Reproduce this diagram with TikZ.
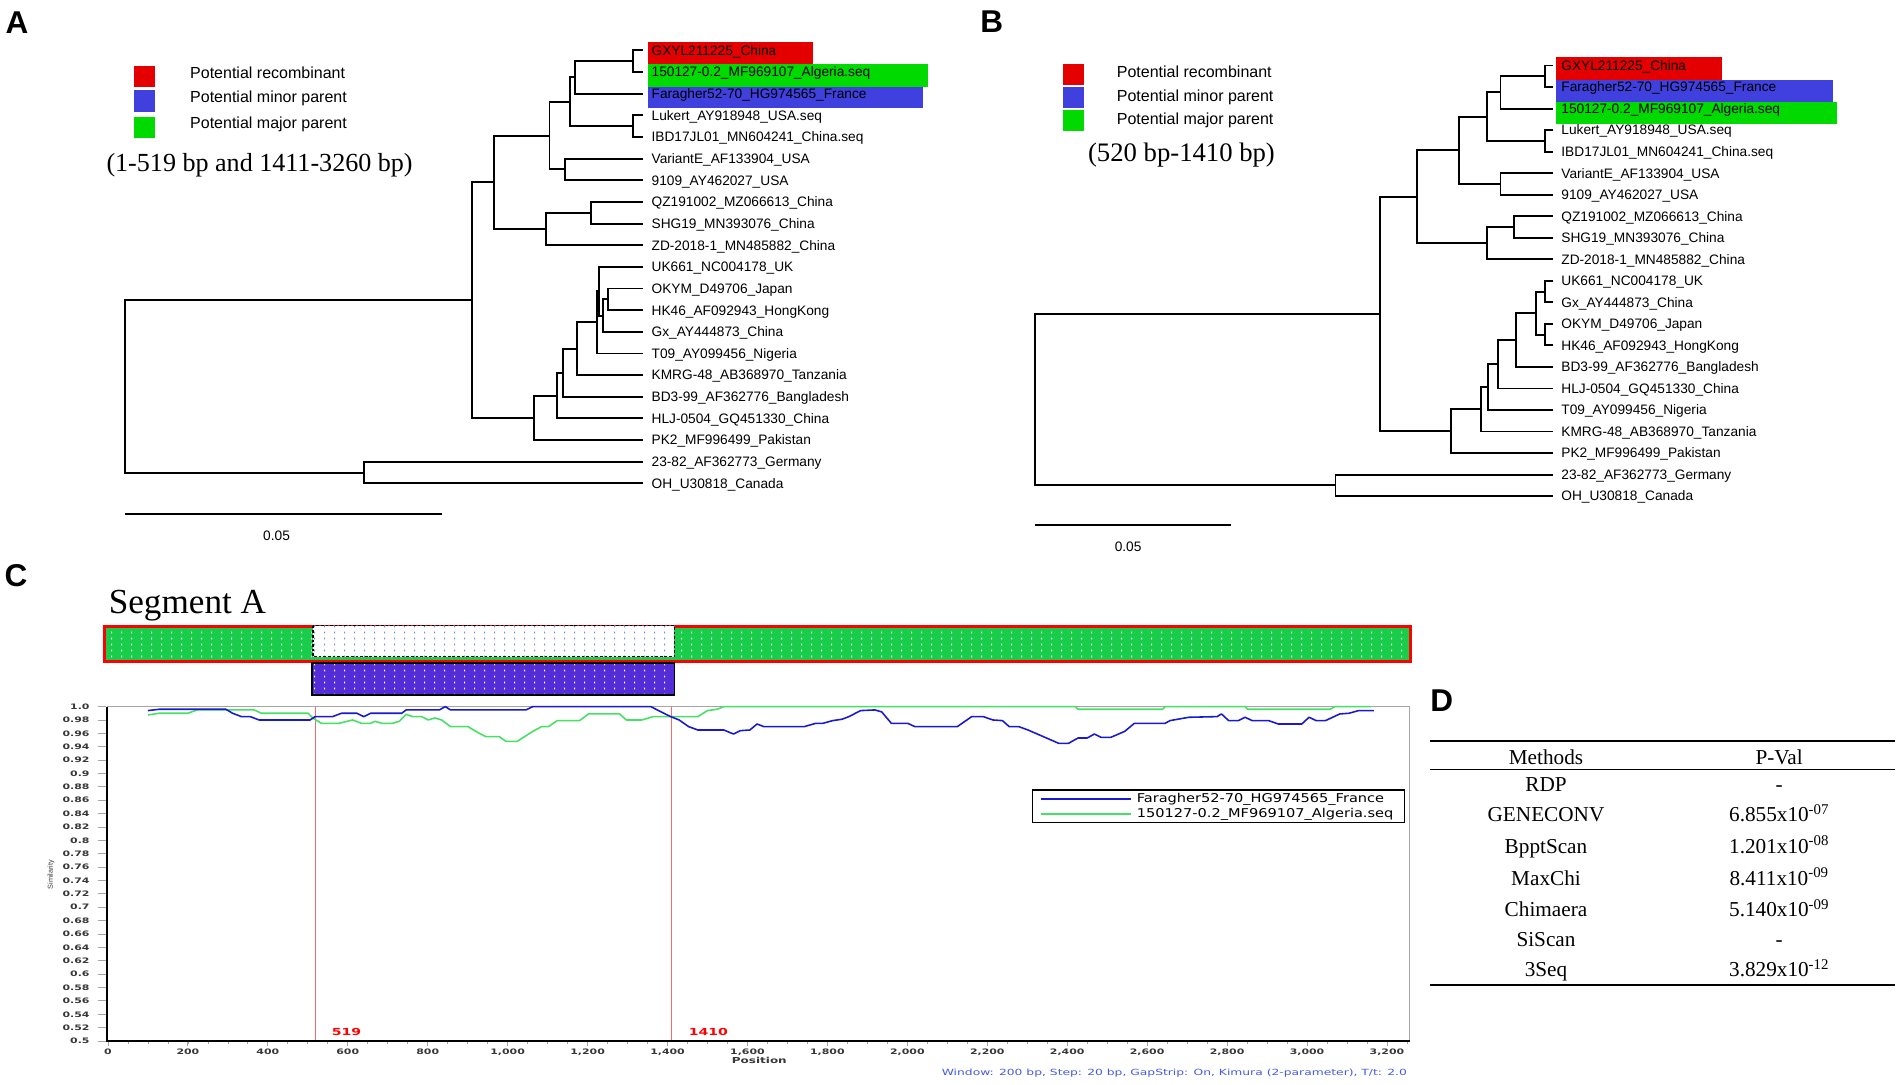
\documentclass[tikz,border=0pt]{standalone}
\usepackage{fontspec}
\setmainfont{Liberation Serif}
\newfontfamily\arial{Liberation Sans}
\newfontfamily\plotfont[FakeStretch=1.45]{DejaVu Sans}
\newfontfamily\plotfontb[FakeStretch=1.45]{DejaVu Sans Bold}
\newfontfamily\legfont[FakeStretch=1.2]{DejaVu Sans}
\usetikzlibrary{patterns.meta}
\definecolor{recred}{RGB}{228,0,0}
\definecolor{minblue}{RGB}{64,64,222}
\definecolor{majgreen}{RGB}{0,218,0}
\definecolor{bargreen}{RGB}{25,205,75}
\definecolor{barblue}{RGB}{85,45,215}
\definecolor{curveblue}{RGB}{25,25,205}
\definecolor{curvegreen}{RGB}{70,225,100}
\definecolor{redline}{RGB}{240,110,110}
\definecolor{wintext}{RGB}{70,90,230}
\definecolor{dotblue}{RGB}{120,140,220}
\tikzdeclarepattern{
  name=dotgrid,
  type=uncolored,
  bounding box={(0pt,0pt) and (8pt,4.5pt)},
  tile size={(8pt,4.5pt)},
  code={\pgfpathrectangle{\pgfpoint{3.5pt}{1.4pt}}{\pgfpoint{0.9pt}{1.7pt}}\pgfusepath{fill}}
}
\tikzset{
  branch/.style={line width=1.55pt, line join=miter},
  leaflab/.style={anchor=base west, inner sep=0pt, font=\arial\fontsize{11.3}{13}\selectfont},
  leglab/.style={anchor=base west, inner sep=0pt, font=\arial\fontsize{13.2}{15}\selectfont},
  panel/.style={anchor=base west, inner sep=0pt, font=\arial\bfseries\fontsize{26}{30}\selectfont},
  rangelab/.style={anchor=base, inner sep=0pt, font=\fontsize{21.5}{25}\selectfont},
  scalelab/.style={anchor=base, inner sep=0pt, font=\arial\fontsize{11.3}{13}\selectfont},
  ticklab/.style={inner sep=0pt, text=black!78, font=\plotfontb\fontsize{6.2}{7}\selectfont},
  bplabel/.style={anchor=base west, inner sep=0pt, text=red, font=\plotfontb\fontsize{8}{9}\selectfont},
  tabtext/.style={anchor=base, inner sep=0pt, font=\fontsize{17.5}{20}\selectfont},
  bluecurve/.style={curveblue, line width=1.3pt, line join=round},
  greencurve/.style={curvegreen, line width=1.3pt, line join=round}
}
\begin{document}
\begin{tikzpicture}[x=1pt,y=-1pt]
\useasboundingbox (0,0) rectangle (1568,894);
\fill[white] (0,0) rectangle (1568,894);

% ================= Panel A =================
\node[panel] (labA) at (4.5,27.5) {A};
\fill[recred] (110.7,54.4) rectangle (127.8,71.5);
\fill[minblue] (110.7,74.2) rectangle (127.8,92);
\fill[majgreen] (110.7,96.2) rectangle (127.8,114);
\node[leglab] (legA1) at (156.6,64.6) {Potential recombinant};
\node[leglab] (legA2) at (156.6,84.4) {Potential minor parent};
\node[leglab] (legA3) at (156.6,105.8) {Potential major parent};
\node[rangelab] (rangeA) at (214,141.5) {(1-519 bp and 1411-3260 bp)};

\fill[recred] (534,34.3) rectangle (670,52.8);
\fill[majgreen] (534,53) rectangle (765,71.5);
\fill[minblue] (534,72) rectangle (761,89.3);

\foreach \i/\lab in {1/GXYL211225\_China, 2/150127-0.2\_MF969107\_Algeria.seq, 3/Faragher52-70\_HG974565\_France,
  4/Lukert\_AY918948\_USA.seq, 5/IBD17JL01\_MN604241\_China.seq, 6/VariantE\_AF133904\_USA, 7/9109\_AY462027\_USA,
  8/QZ191002\_MZ066613\_China, 9/SHG19\_MN393076\_China, 10/ZD-2018-1\_MN485882\_China, 11/UK661\_NC004178\_UK,
  12/OKYM\_D49706\_Japan, 13/HK46\_AF092943\_HongKong, 14/Gx\_AY444873\_China, 15/T09\_AY099456\_Nigeria,
  16/KMRG-48\_AB368970\_Tanzania, 17/BD3-99\_AF362776\_Bangladesh, 18/HLJ-0504\_GQ451330\_China,
  19/PK2\_MF996499\_Pakistan, 20/23-82\_AF362773\_Germany, 21/OH\_U30818\_Canada} {
  \pgfmathsetmacro\yy{41.5+17.85*(\i-1)}
  \coordinate (A\i) at (530,\yy);
  \node[leaflab] (LA\i) at (537,\yy+4) {\lab};
}
\coordinate (Aa) at (522,50.43);
\coordinate (Ab) at (474,63.81);
\coordinate (Ac) at (522,103.98);
\coordinate (Ad) at (470,83.9);
\coordinate (Ae) at (466,139.68);
\coordinate (Af) at (453,111.79);
\coordinate (Ag) at (487,175.38);
\coordinate (Ah) at (450,188.76);
\coordinate (Ai) at (407,150.28);
\coordinate (Am1) at (501.5,246.78);
\coordinate (Am2) at (496.8,260.16);
\coordinate (Am3) at (493.7,240.08);
\coordinate (Am4) at (492.3,265.74);
\coordinate (Am5) at (475.4,287.5);
\coordinate (Am6) at (464.4,307.3);
\coordinate (Am7) at (459,326.13);
\coordinate (Ak) at (440,344.46);
\coordinate (Aj) at (389,247.37);
\coordinate (Ao) at (300,389.58);
\coordinate (Ar) at (103,318.47);
\draw[branch] (A1) -| (Aa) |- (A2);
\draw[branch] (Aa) -| (Ab) |- (A3);
\draw[branch] (A4) -| (Ac) |- (A5);
\draw[branch] (Ab) -| (Ad) |- (Ac);
\draw[branch] (A6) -| (Ae) |- (A7);
\draw[branch] (Ad) -| (Af) |- (Ae);
\draw[branch] (A8) -| (Ag) |- (A9);
\draw[branch] (Ag) -| (Ah) |- (A10);
\draw[branch] (Af) -| (Ai) |- (Ah);
\draw[branch] (A12) -| (Am1) |- (A13);
\draw[branch] (Am1) -| (Am2) |- (A14);
\draw[branch] (A11) -| (Am3) |- (Am2);
\draw[branch] (Am3) -| (Am4) |- (A15);
\draw[branch] (Am4) -| (Am5) |- (A16);
\draw[branch] (Am5) -| (Am6) |- (A17);
\draw[branch] (Am6) -| (Am7) |- (A18);
\draw[branch] (Am7) -| (Ak) |- (A19);
\draw[branch] (Ai) -| (Aj) |- (Ak);
\draw[branch] (A20) -| (Ao) |- (A21);
\draw[branch] (Aj) -| (Ar) |- (Ao);
\coordinate (sAl) at (103,423.5);
\coordinate (sAr) at (364,423.5);
\draw[branch] (sAl) -- (sAr);
\node[scalelab] (sAlab) at (228,445.2) {0.05};

% ================= Panel B =================
\node[panel] (labB) at (808,26.7) {B};
\fill[recred] (876.5,53) rectangle (893.5,70);
\fill[minblue] (876.5,72) rectangle (893.5,88.8);
\fill[majgreen] (876.5,90.7) rectangle (893.5,107.7);
\node[leglab] (legB1) at (920.5,63.8) {Potential recombinant};
\node[leglab] (legB2) at (920.5,83.8) {Potential minor parent};
\node[leglab] (legB3) at (920.5,103) {Potential major parent};
\node[rangelab, font=\fontsize{22}{25}\selectfont] (rangeB) at (974,133.3) {(520 bp-1410 bp)};

\fill[recred] (1283,46.7) rectangle (1420,66);
\fill[minblue] (1283,66.2) rectangle (1511,83.8);
\fill[majgreen] (1283,84) rectangle (1514,102);

\foreach \i/\lab in {1/GXYL211225\_China, 2/Faragher52-70\_HG974565\_France, 3/150127-0.2\_MF969107\_Algeria.seq,
  4/Lukert\_AY918948\_USA.seq, 5/IBD17JL01\_MN604241\_China.seq, 6/VariantE\_AF133904\_USA, 7/9109\_AY462027\_USA,
  8/QZ191002\_MZ066613\_China, 9/SHG19\_MN393076\_China, 10/ZD-2018-1\_MN485882\_China, 11/UK661\_NC004178\_UK,
  12/Gx\_AY444873\_China, 13/OKYM\_D49706\_Japan, 14/HK46\_AF092943\_HongKong, 15/BD3-99\_AF362776\_Bangladesh,
  16/HLJ-0504\_GQ451330\_China, 17/T09\_AY099456\_Nigeria, 18/KMRG-48\_AB368970\_Tanzania,
  19/PK2\_MF996499\_Pakistan, 20/23-82\_AF362773\_Germany, 21/OH\_U30818\_Canada} {
  \pgfmathsetmacro\yy{54+17.75*(\i-1)}
  \coordinate (B\i) at (1280,\yy);
  \node[leaflab] (LB\i) at (1287,\yy+4) {\lab};
}
\coordinate (Ba) at (1274,62.88);
\coordinate (Bb) at (1237,76.19);
\coordinate (Bc) at (1274,116.13);
\coordinate (Bd) at (1226,96.16);
\coordinate (Be) at (1237,151.63);
\coordinate (Bf) at (1203,123.9);
\coordinate (Bg) at (1248,187.13);
\coordinate (Bh) at (1226,200.44);
\coordinate (Bi) at (1168,162.17);
\coordinate (Bm1) at (1274,240.38);
\coordinate (Bm2) at (1274,275.88);
\coordinate (Bm3) at (1266,258.13);
\coordinate (Bm4) at (1250,280.32);
\coordinate (Bm5) at (1235,300.29);
\coordinate (Bm6) at (1227,319.15);
\coordinate (Bm7) at (1221,337.45);
\coordinate (Bk) at (1196,355.48);
\coordinate (Bj) at (1138,258.83);
\coordinate (Bo) at (1101,400.13);
\coordinate (Br) at (853,329.48);
\draw[branch] (B1) -| (Ba) |- (B2);
\draw[branch] (Ba) -| (Bb) |- (B3);
\draw[branch] (B4) -| (Bc) |- (B5);
\draw[branch] (Bb) -| (Bd) |- (Bc);
\draw[branch] (B6) -| (Be) |- (B7);
\draw[branch] (Bd) -| (Bf) |- (Be);
\draw[branch] (B8) -| (Bg) |- (B9);
\draw[branch] (Bg) -| (Bh) |- (B10);
\draw[branch] (Bf) -| (Bi) |- (Bh);
\draw[branch] (B11) -| (Bm1) |- (B12);
\draw[branch] (B13) -| (Bm2) |- (B14);
\draw[branch] (Bm1) -| (Bm3) |- (Bm2);
\draw[branch] (Bm3) -| (Bm4) |- (B15);
\draw[branch] (Bm4) -| (Bm5) |- (B16);
\draw[branch] (Bm5) -| (Bm6) |- (B17);
\draw[branch] (Bm6) -| (Bm7) |- (B18);
\draw[branch] (Bm7) -| (Bk) |- (B19);
\draw[branch] (Bi) -| (Bj) |- (Bk);
\draw[branch] (B20) -| (Bo) |- (B21);
\draw[branch] (Bj) -| (Br) |- (Bo);
\coordinate (sBl) at (853,433);
\coordinate (sBr) at (1015,433);
\draw[branch] (sBl) -- (sBr);
\node[scalelab] (sBlab) at (930,454.8) {0.05};

% ================= Panel C =================
\node[panel] (labC) at (3.7,483.6) {C};
\node[anchor=base west, inner sep=0pt, font=\fontsize{29}{33}\selectfont] (segA) at (89.5,505.6) {Segment A};
% segment bar
\fill[bargreen] (86,516.6) rectangle (1163,545.5);
\fill[pattern=dotgrid, pattern color=white] (86,516.6) rectangle (1163,545.5);
\draw[red, line width=2.2pt] (86,516.6) rectangle (1163,545.5);
\fill[white] (258,515.8) rectangle (556,541.4);
\fill[pattern=dotgrid, pattern color=dotblue] (258,515.8) rectangle (556,541.4);
\draw[black, line width=1.2pt, dash pattern=on 2.2pt off 1.6pt] (258,515.8) rectangle (556,541.4);
\fill[barblue] (257,546.5) rectangle (556,573);
\fill[pattern=dotgrid, pattern color=white] (257,546.5) rectangle (556,573);
\draw[black, line width=1.4pt] (257,546.5) rectangle (556,573);

% plot frame
\draw[gray!70, line width=0.8pt] (88.5,582.5) -- (1162,582.5) -- (1162,858.2);
% red breakpoint lines
\draw[redline, line width=1.4pt] (260,582.5) -- (260,858.2);
\draw[redline, line width=1.4pt] (553.6,582.5) -- (553.6,858.2);
\node[bplabel] (bp1) at (273.4,854) {519};
\node[bplabel] (bp2) at (567.6,854) {1410};
% curves
\begin{scope}
\clip (88.5,581.8) rectangle (1162,858.2);
\begin{scope}[shift={(89,1133.9)}, x=0.3295pt, y=551.4pt]
\draw[greencurve] plot coordinates {(100,.9875) (128,.99) (200,.99) (223,.995) (366,.995) (384,.99) (501,.99) (512,.983) (534,.975) (578,.975) (612,.98) (634,.975) (657,.975) (668,.978) (685,.975) (712,.975) (729,.978) (746,.9885) (762,.985) (785,.985) (801,.98) (818,.983) (835,.98) (857,.97) (901,.97) (929,.96) (946,.955) (979,.955) (996,.948) (1024,.948) (1063,.963) (1085,.97) (1102,.97) (1124,.979) (1180,.979) (1202,.989) (1280,.989) (1297,.98) (1336,.98) (1364,.985) (1476,.985) (1500,.994) (1524,.996) (1541,1) (2420,1) (2427,.996) (2639,.996) (2645,1) (2845,1) (2852,.996) (3058,.996) (3070,1) (3160,1)};
\draw[bluecurve] plot coordinates {(100,.994) (128,.996) (223,.996) (295,.996) (312,.99) (334,.985) (356,.985) (378,.98) (506,.98) (518,.985) (562,.985) (584,.99) (623,.99) (640,.985) (657,.99) (735,.99) (746,.995) (829,.995) (844,1) (857,.995) (1046,.995) (1063,1) (1358,1) (1391,.99) (1408,.985) (1429,.98) (1453,.97) (1476,.965) (1541,.965) (1565,.959) (1582,.964) (1606,.965) (1624,.974) (1641,.97) (1742,.97) (1771,.975) (1789,.975) (1813,.979) (1836,.981) (1854,.985) (1883,.994) (1919,.995) (1936,.992) (1960,.975) (2001,.975) (2019,.97) (2125,.97) (2161,.985) (2190,.985) (2214,.98) (2238,.979) (2255,.97) (2279,.97) (2302,.965) (2379,.945) (2403,.945) (2427,.953) (2450,.953) (2468,.959) (2485,.954) (2509,.954) (2544,.963) (2568,.975) (2645,.975) (2657,.979) (2704,.984) (2775,.985) (2786,.989) (2804,.979) (2828,.979) (2845,.984) (2863,.979) (2904,.979) (2928,.974) (2987,.974) (3005,.984) (3023,.979) (3046,.979) (3082,.989) (3105,.99) (3129,.994) (3167,.994)};
\end{scope}
\end{scope}
% axes
\draw[black, line width=1.6pt] (88.5,582.5) -- (88.5,858.2) -- (1162,858.2);
\foreach \k/\t in {0/1.0,1/0.98,2/0.96,3/0.94,4/0.92,5/0.9,6/0.88,7/0.86,8/0.84,9/0.82,10/0.8,11/0.78,12/0.76,13/0.74,14/0.72,15/0.7,16/0.68,17/0.66,18/0.64,19/0.62,20/0.6,21/0.58,22/0.56,23/0.54,24/0.52,25/0.5} {
  \draw[gray!70, line width=0.7pt] (80.5,582.5+\k*11.028) -- (87.5,582.5+\k*11.028);
  \node[ticklab, anchor=east] (yt\k) at (74,582.5+\k*11.028) {\t};
}
\foreach \p in {50,100,...,3250} {
  \draw[gray!70, line width=0.6pt] (89+0.3295*\p,859) -- (89+0.3295*\p,861);
}
\foreach \p/\t in {0/0,200/200,400/400,600/600,800/800,1000/{1,000},1200/{1,200},1400/{1,400},1600/{1,600},1800/{1,800},2000/{2,000},2200/{2,200},2400/{2,400},2600/{2,600},2800/{2,800},3000/{3,000},3200/{3,200}} {
  \draw[gray!70, line width=0.7pt] (89+0.3295*\p,859) -- (89+0.3295*\p,862.5);
  \node[ticklab, anchor=base] (xt\p) at (89+0.3295*\p,869) {\t};
}
\node[ticklab, anchor=base, font=\plotfontb\fontsize{6.8}{8}\selectfont] (poslab) at (626,876.8) {Position};
\node[rotate=90, inner sep=0pt, text=black!75, font=\arial\fontsize{6}{7}\selectfont] (simlab) at (42,721) {Similarity};
\node[anchor=base east, inner sep=0pt, text=wintext, font=\plotfont\fontsize{7}{8}\selectfont] (winlab) at (1160,887) {Window: 200 bp, Step: 20 bp, GapStrip: On, Kimura (2-parameter), T/t: 2.0};
% plot legend
\draw[black, line width=1pt] (851,651.3) rectangle (1158,678);
\coordinate (lg1a) at (858,658.6);
\coordinate (lg1b) at (932,658.6);
\coordinate (lg2a) at (858,671.3);
\coordinate (lg2b) at (932,671.3);
\draw[bluecurve, line width=1.6pt] (lg1a) -- (lg1b);
\draw[greencurve, line width=1.6pt] (lg2a) -- (lg2b);
\node[anchor=west, inner sep=0pt, font=\legfont\fontsize{10}{11}\selectfont] (lgt1) at (937,658.6) {Faragher52-70\_HG974565\_France};
\node[anchor=west, inner sep=0pt, font=\legfont\fontsize{10}{11}\selectfont] (lgt2) at (937,671.3) {150127-0.2\_MF969107\_Algeria.seq};

% ================= Panel D =================
\node[panel] (labD) at (1179,586.7) {D};
\draw[black, line width=1.6pt] (1179,610.6) -- (1562,610.6);
\draw[black, line width=1.3pt] (1179,634.2) -- (1562,634.2);
\draw[black, line width=1.6pt] (1179,812) -- (1562,812);
\node[tabtext] (hm) at (1274.5,630.1) {Methods};
\node[tabtext] (hp) at (1466.7,630.1) {P-Val};
\node[tabtext] (m1) at (1274.5,652.7) {RDP};
\node[tabtext] (p1) at (1466.7,652.7) {-};
\node[tabtext] (m2) at (1274.5,677.4) {GENECONV};
\node[tabtext] (p2) at (1466.7,677.4) {6.855x10\textsuperscript{-07}};
\node[tabtext] (m3) at (1274.5,703.5) {BpptScan};
\node[tabtext] (p3) at (1466.7,703.5) {1.201x10\textsuperscript{-08}};
\node[tabtext] (m4) at (1274.5,729.6) {MaxChi};
\node[tabtext] (p4) at (1466.7,729.6) {8.411x10\textsuperscript{-09}};
\node[tabtext] (m5) at (1274.5,755.7) {Chimaera};
\node[tabtext] (p5) at (1466.7,755.7) {5.140x10\textsuperscript{-09}};
\node[tabtext] (m6) at (1274.5,780.4) {SiScan};
\node[tabtext] (p6) at (1466.7,780.4) {-};
\node[tabtext] (m7) at (1274.5,805.2) {3Seq};
\node[tabtext] (p7) at (1466.7,805.2) {3.829x10\textsuperscript{-12}};
\end{tikzpicture}
\end{document}
